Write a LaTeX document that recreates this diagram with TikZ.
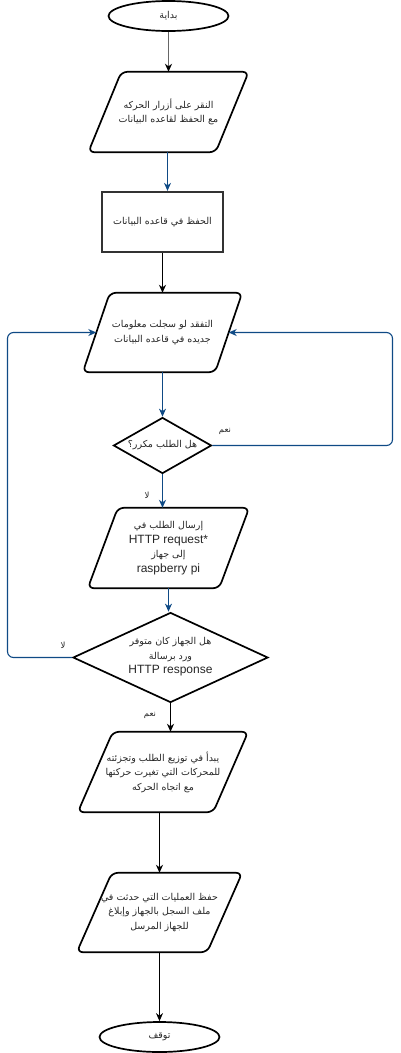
\documentclass[tikz,border=0pt]{standalone}
\usepackage{fontspec}
\setmainfont{Liberation Sans}
\newfontfamily\arabicfont[Script=Arabic]{DejaVu Sans}
\TeXXeTstate=1
\usetikzlibrary{shapes.geometric,arrows.meta,calc}
\definecolor{linkblue}{HTML}{0F4A85}
\newcommand\artxt[1]{{\arabicfont\beginR #1\endR}}
\newcommand\drawpara[2]{%
  \draw[paraline] ($(#1.south west)+(-#2/2,0)$) -- ($(#1.south east)+(-#2/2,0)$)
    -- ($(#1.north east)+(#2/2,0)$) -- ($(#1.north west)+(#2/2,0)$) -- cycle;}
\begin{document}
\begin{tikzpicture}[x=1pt,y=-1pt,
  paraline/.style={draw=black, line width=1.7pt, rounded corners=6pt, line join=round},
  pbox/.style={rectangle, inner sep=0pt, align=center, text=black!85, font=\fontsize{9.5}{14.5}\selectfont},
  term/.style={ellipse, draw=black, line width=1.7pt, inner sep=0pt, text=black!85, minimum width=120pt, minimum height=30pt, font=\fontsize{9.5}{12}\selectfont},
  dia/.style={diamond, draw=black, line width=1.7pt, inner sep=0pt},
  procbox/.style={rectangle, draw=black!80, line width=2.3pt, inner sep=0pt, text=black!85, minimum width=121pt, minimum height=60pt, font=\fontsize{9.5}{12}\selectfont},
  txt/.style={align=center, inner sep=0pt, text=black!85, font=\fontsize{9.5}{14.5}\selectfont},
  lbl/.style={inner sep=0pt, text=black!85, font=\fontsize{8.5}{10}\selectfont},
  arr/.style={-{Stealth[length=8pt,width=7pt,inset=2.5pt]}, line width=1.1pt},
  blk/.style={arr, draw=black},
  blu/.style={arr, draw=linkblue, rounded corners=6pt},
  gry/.style={-{Stealth[length=8pt,width=7pt,inset=2.5pt,color=black]}, line width=1.3pt, draw=black!60}
]
\useasboundingbox (0,0) rectangle (401,1053);

% helper coordinates for the loops
\coordinate (rx) at (392.5,0);
\coordinate (lx) at (7.5,0);

% nodes
\node[term] (start) at (168.5,16) {\artxt{بداية}};

\node[pbox, minimum width=127pt, minimum height=80pt] (p1) at (168.5,112)
  {\artxt{النقر على أزرار الحركه}\\ \artxt{مع الحفظ لقاعده البيانات}};
\drawpara{p1}{33}

\node[procbox] (r1) at (162.5,222) {\artxt{الحفظ في قاعده البيانات}};

\node[pbox, minimum width=132pt, minimum height=79pt] (p2) at (162.5,332.5)
  {\artxt{التفقد لو سجلت معلومات}\\ \artxt{جديده في قاعده البيانات}};
\drawpara{p2}{27}

\node[dia, minimum width=98pt, minimum height=56pt] (d1) at (162.5,445.5) {};
\node[txt] (d1t) at (162.5,445.5) {\artxt{هل الطلب مكرر؟}};

\node[pbox, minimum width=131pt, minimum height=80pt] (p3) at (168.5,548)
  {\artxt{إرسال الطلب في}\\ {\fontsize{12}{14.5}\selectfont HTTP request*}\\ \artxt{إلى جهاز}\\ {\fontsize{12}{14.5}\selectfont raspberry pi}};
\drawpara{p3}{30}

\node[dia, minimum width=195pt, minimum height=90pt] (d2) at (170.5,657.5) {};
\node[txt] (d2t) at (170.5,657) {\artxt{هل الجهاز كان متوفر}\\ \artxt{ورد برسالة}\\ {\fontsize{12}{14.5}\selectfont HTTP response}};

\node[pbox, minimum width=135pt, minimum height=80pt] (p4) at (163,772)
  {\artxt{يبدأ في توزيع الطلب وتجزئته}\\ \artxt{للمحركات التي تغيرت حركتها}\\ \artxt{مع اتجاه الحركه}};
\drawpara{p4}{35}

\node[pbox, minimum width=130pt, minimum height=79pt] (p5) at (159.5,912.5)
  {\artxt{حفظ العمليات التي حدثت في}\\ \artxt{ملف السجل بالجهاز وإبلاغ}\\ \artxt{للجهاز المرسل}};
\drawpara{p5}{35}

\node[term] (stop) at (159.5,1037) {\artxt{توقف}};

% labels
\node[lbl] (l1) at (225,431) {\artxt{نعم}};
\node[lbl] (l2) at (147,495) {\artxt{لا}};
\node[lbl] (l3) at (63,645) {\artxt{لا}};
\node[lbl] (l4) at (150,715) {\artxt{نعم}};

% connectors
\draw[gry] (start.south) -- (start.south |- p1.north);
\draw[blu] (p1.south) ++(-1,0) coordinate (p1o) -- (p1o |- r1.north);
\draw[blk] (r1.south) -- (r1.south |- p2.north);
\draw[blu] (p2.south) -- (p2.south |- d1.north);
\draw[blu] (d1.south) -- (d1.south |- p3.north);
\draw[blu] (p3.south) -- (p3.south |- d2.north);
\draw[blk] (d2.south) -- (d2.south |- p4.north);
\draw[blk] (p4.south -| p5.north) -- (p5.north);
\draw[blk] (p5.south) -- (p5.south |- stop.north);
\draw[blu] (d1.east) -- (d1.east -| rx) -- (rx |- p2.east) -- (p2.east);
\draw[blu] (d2.west) -- (d2.west -| lx) -- (lx |- p2.west) -- (p2.west);
\end{tikzpicture}
\end{document}
